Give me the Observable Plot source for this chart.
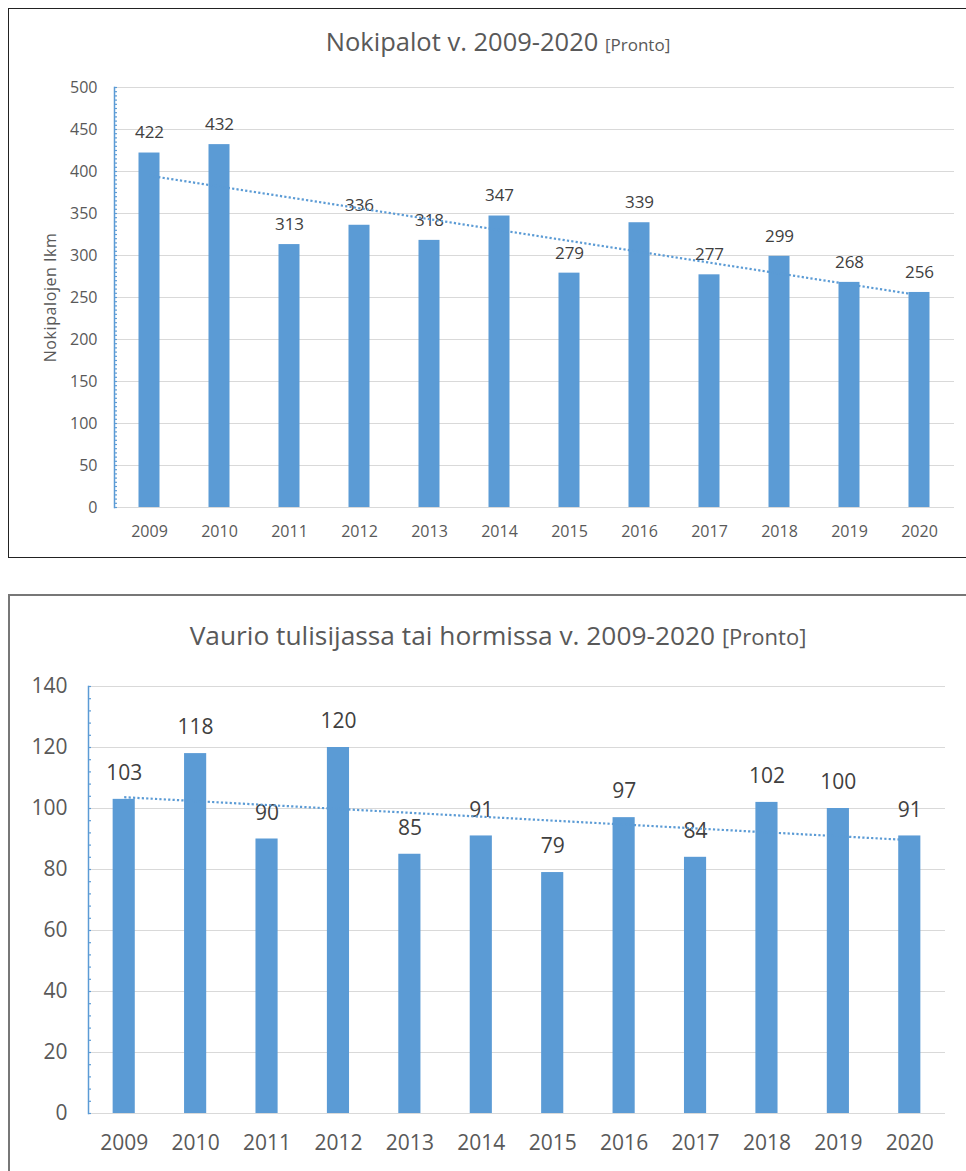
<!DOCTYPE html>
<html>
<head>
<meta charset="utf-8">
<script src="https://cdn.jsdelivr.net/npm/d3@7"></script>
<script src="https://cdn.jsdelivr.net/npm/@observablehq/plot@0.6"></script>
<style>
  html, body { margin: 0; padding: 0; background: #fff; overflow: hidden; width: 966px; height: 1171px; }
  body { position: relative; font-family: "Open Sans", sans-serif; color: #595959; }
  .box { position: absolute; box-sizing: border-box; }
  .title { position: absolute; left: 0; width: 100%; text-align: center; white-space: nowrap; color: #595959; line-height: 1; }
  .chart { position: absolute; left: 0; }
  svg [aria-label="y-axis label"] text { letter-spacing: 0.6px; }
</style>
</head>
<body>
<div class="box" style="left:8px;top:8px;width:980px;height:550px;border:1.5px solid #222;">
  <div class="title" style="top:20px;font-size:25.5px;">Nokipalot v. 2009-2020 <span style="font-size:17px;">[Pronto]</span></div>
</div>
<div class="box" style="left:8px;top:594px;width:980px;height:620px;border:2px solid #777;">
  <div class="title" style="top:26px;font-size:26.3px;">Vaurio tulisijassa tai hormissa v. 2009-2020 <span style="font-size:22px;">[Pronto]</span></div>
</div>
<div id="c1" class="chart" style="top:70px;"></div>
<div id="c2" class="chart" style="top:660px;"></div>
<script>
const years = ["2009","2010","2011","2012","2013","2014","2015","2016","2017","2018","2019","2020"];
const nokipalot = [422, 432, 313, 336, 318, 347, 279, 339, 277, 299, 268, 256];
const vauriot = [103, 118, 90, 120, 85, 91, 79, 97, 84, 102, 100, 91];
const yTicks1 = [0, 50, 100, 150, 200, 250, 300, 350, 400, 450, 500];
const yTicks2 = [0, 20, 40, 60, 80, 100, 120, 140];
const yTitle1 = "Nokipalojen lkm";

const BLUE = "#5b9bd5";
const GRID = "#d9d9d9";
const TEXT = "#595959";

function rows(values) {
  return years.map((year, i) => ({year, value: values[i]}));
}
function trend(values) {
  const xs = values.map((_, i) => i);
  const mx = d3.mean(xs), my = d3.mean(values);
  const slope = d3.sum(xs, (x, i) => (x - mx) * (values[i] - my)) / d3.sum(xs, x => (x - mx) ** 2);
  const b = my - slope * mx;
  return years.map((year, i) => ({year, value: b + slope * i}));
}

function chart({values, yTicks, yMax, minorStep, width, height, margins, fs, labelFs, tickPadX, tickPadY, labelDy, padding, yLabel}) {
  const data = rows(values);
  const minor = d3.range(0, yMax + 0.001, minorStep);
  const marks = [
    Plot.gridY(yTicks, {stroke: GRID, strokeOpacity: 1, strokeWidth: 1.2}),
    Plot.axisY(yTicks, {tickSize: 0, tickPadding: tickPadY, fontSize: fs, fill: TEXT,
      label: yLabel || null, labelAnchor: "center", labelOffset: 70, labelArrow: "none"}),
    Plot.axisY(minor, {tickSize: 3, dx: 3, stroke: BLUE, strokeWidth: 1.2, tickFormat: () => "", label: null}),
    Plot.frame({anchor: "left", stroke: BLUE, strokeWidth: 1.5}),
    Plot.axisX({tickSize: 0, tickPadding: tickPadX, fontSize: fs, fill: TEXT, label: null}),
    Plot.barY(data, {x: "year", y: "value", fill: BLUE}),
    Plot.text(data, {x: "year", y: "value", text: d => String(d.value), dy: labelDy, fontSize: labelFs, fill: "#404040"}),
    Plot.line(trend(values), {x: "year", y: "value", stroke: BLUE, strokeWidth: 2.2, strokeDasharray: "2.2,2.2", strokeLinecap: "butt"})
  ];
  return Plot.plot({
    width, height,
    marginLeft: margins[0], marginRight: margins[1], marginTop: margins[2], marginBottom: margins[3],
    style: {fontFamily: "'Open Sans', sans-serif", color: TEXT, background: "transparent", overflow: "visible"},
    x: {domain: years, paddingInner: padding, paddingOuter: padding / 2, round: false, label: null},
    y: {domain: [0, yMax], label: null},
    marks
  });
}

document.getElementById("c1").appendChild(chart({
  values: nokipalot, yTicks: yTicks1, yMax: 500, minorStep: 5,
  width: 966, height: 480, margins: [114, 12, 17, 43],
  fs: 16, labelFs: 17, tickPadX: 18, tickPadY: 17, labelDy: -20, padding: 0.7, yLabel: yTitle1
}));
document.getElementById("c2").appendChild(chart({
  values: vauriot, yTicks: yTicks2, yMax: 140, minorStep: 4,
  width: 966, height: 510, margins: [88, 21, 26, 57],
  fs: 21, labelFs: 21, tickPadX: 22, tickPadY: 21, labelDy: -26, padding: 0.69, yLabel: null
}));
</script>
</body>
</html>
